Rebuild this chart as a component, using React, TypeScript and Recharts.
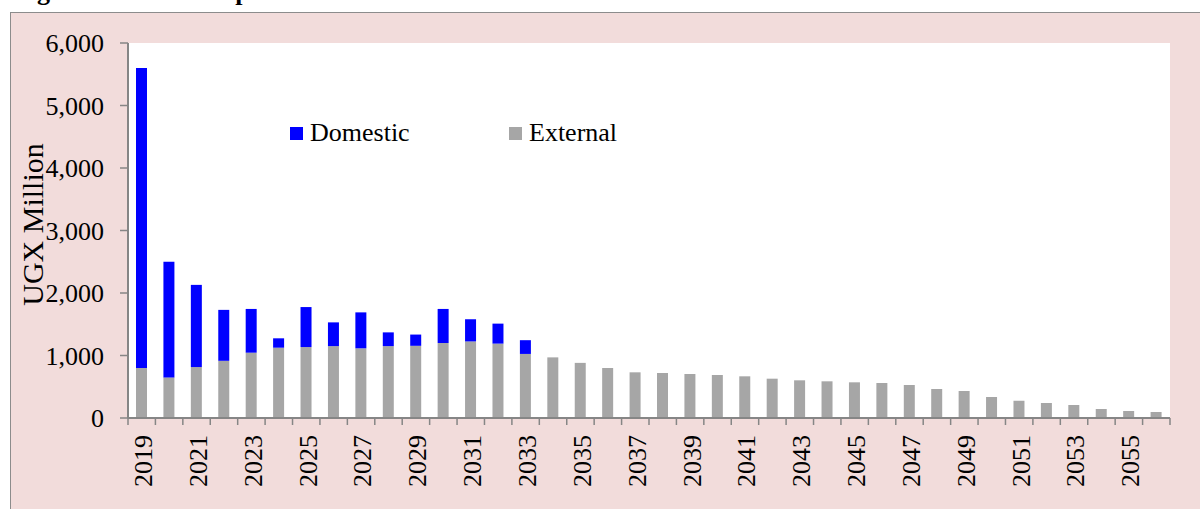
import { BarChart, Bar, XAxis, YAxis, CartesianGrid, Legend } from 'recharts';

const YEARS = [
  '2019', '2020', '2021', '2022', '2023', '2024', '2025', '2026', '2027', '2028',
  '2029', '2030', '2031', '2032', '2033', '2034', '2035', '2036', '2037', '2038',
  '2039', '2040', '2041', '2042', '2043', '2044', '2045', '2046', '2047', '2048',
  '2049', '2050', '2051', '2052', '2053', '2054', '2055', '2056',
];

const DOMESTIC = [
  4800, 1850, 1315, 815, 700, 150, 640, 380, 575, 220,
  180, 545, 355, 320, 220, 0, 0, 0, 0, 0,
  0, 0, 0, 0, 0, 0, 0, 0, 0, 0,
  0, 0, 0, 0, 0, 0, 0, 0,
];

const EXTERNAL = [
  800, 650, 815, 915, 1045, 1125, 1135, 1150, 1115, 1150,
  1155, 1200, 1225, 1190, 1025, 970, 882, 800, 731, 720,
  704, 688, 667, 629, 603, 587, 571, 560, 528, 464,
  432, 336, 277, 240, 208, 144, 112, 96,
];

const Y_TICKS = [0, 1000, 2000, 3000, 4000, 5000, 6000];

const rows = YEARS.map((year, i) => ({ year, domestic: DOMESTIC[i], external: EXTERNAL[i] }));

const FONT = "'Times New Roman', 'Liberation Serif', serif";
const AXIS = '#868686';
const BLUE = '#0000ff';
const GREY = '#a6a6a6';

const CHART_W = 1200;
const CHART_H = 509;
const Y_AXIS_W = 128;
const RIGHT = 30;
const PLOT_W = CHART_W - Y_AXIS_W - RIGHT;
const X_TICK = 7;
const X_MARGIN = 10;

function YearTick(props: any) {
  const { x, y, payload, index } = props;
  const band = PLOT_W / YEARS.length;
  const axisY = y - X_TICK - X_MARGIN;
  const left = x - band / 2;
  return (
    <g>
      <line x1={left} x2={left} y1={axisY} y2={axisY + X_TICK} stroke={AXIS} strokeWidth={1.5} />
      {index === YEARS.length - 1 && (
        <line x1={x + band / 2} x2={x + band / 2} y1={axisY} y2={axisY + X_TICK} stroke={AXIS} strokeWidth={1.5} />
      )}
      {index % 2 === 0 && (
        <text
          x={x}
          y={y}
          transform={`rotate(-90 ${x} ${y})`}
          textAnchor="end"
          dy="0.4em"
          fontSize={26}
          fontFamily={FONT}
          fill="#000"
        >
          {payload.value}
        </text>
      )}
    </g>
  );
}

function YLabel(props: any) {
  const { viewBox } = props;
  const cy = viewBox.y + viewBox.height / 2 - 6;
  return (
    <text
      x={43}
      y={cy}
      transform={`rotate(-90 43 ${cy})`}
      textAnchor="middle"
      fontSize={30}
      fontFamily={FONT}
      fill="#000"
    >
      UGX Million
    </text>
  );
}

function renderLegend(props: any) {
  const items = props.payload || [];
  return (
    <div style={{ display: 'flex', fontFamily: FONT, fontSize: 26, lineHeight: '30px', color: '#000' }}>
      {items.map((item: any) => (
        <div key={item.value} style={{ display: 'flex', alignItems: 'center', width: 219 }}>
          <span style={{ display: 'inline-block', width: 13, height: 13, background: item.color, marginRight: 7 }} />
          <span>{item.value}</span>
        </div>
      ))}
    </div>
  );
}

export default function App() {
  return (
    <div style={{ position: 'absolute', left: 0, top: 0, width: CHART_W, height: CHART_H, overflow: 'hidden', background: '#fff' }}>
      <svg width={CHART_W} height={12} style={{ position: 'absolute', left: 0, top: 0 }}>
        <text x={14} y={0} fontSize={26} fontWeight="bold" fontFamily={FONT} fill="#000">
          Figure 4: Debt Composition
        </text>
      </svg>
      <div
        style={{
          position: 'absolute',
          left: 10,
          top: 12,
          width: 1260,
          height: 560,
          background: '#f2dcdb',
          border: '1.5px solid #8c8c8c',
        }}
      />
      <div style={{ position: 'absolute', left: 0, top: 0 }}>
        <BarChart
          width={CHART_W}
          height={CHART_H}
          data={rows}
          margin={{ top: 43, right: RIGHT, bottom: 0, left: 0 }}
          barSize={11}
        >
          <CartesianGrid fill="#ffffff" stroke="none" horizontal={false} vertical={false} />
          <XAxis
            dataKey="year"
            height={91}
            interval={0}
            tickLine={false}
            tickSize={X_TICK}
            tickMargin={X_MARGIN}
            axisLine={{ stroke: AXIS, strokeWidth: 2 }}
            tick={<YearTick />}
          />
          <YAxis
            width={Y_AXIS_W}
            domain={[0, 6000]}
            ticks={Y_TICKS}
            interval={0}
            tickFormatter={(v: number) => v.toLocaleString('en-US')}
            tickSize={8}
            tickMargin={16}
            axisLine={{ stroke: AXIS, strokeWidth: 2 }}
            tickLine={{ stroke: AXIS, strokeWidth: 1.5 }}
            tick={{ fontSize: 26, fontFamily: FONT, fill: '#000' }}
            label={(p: any) => <YLabel {...p} />}
          />
          <Legend
            verticalAlign="middle"
            align="center"
            content={renderLegend}
            wrapperStyle={{ position: 'absolute', left: 290, top: 118, width: 'auto' }}
          />
          <Bar dataKey="external" name="External" stackId="s" fill={GREY} isAnimationActive={false} />
          <Bar dataKey="domestic" name="Domestic" stackId="s" fill={BLUE} isAnimationActive={false} />
        </BarChart>
      </div>
    </div>
  );
}
